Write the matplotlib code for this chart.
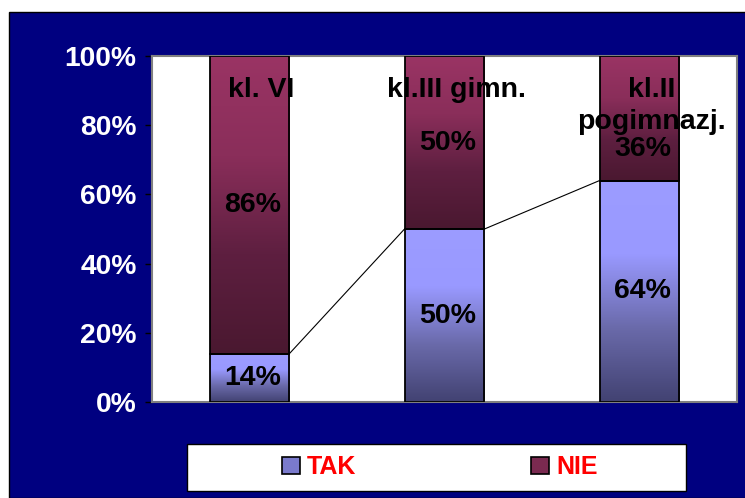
import matplotlib
matplotlib.use("Agg")
import matplotlib.pyplot as plt
import numpy as np
from matplotlib.patches import Rectangle, Patch
from matplotlib.colors import LinearSegmentedColormap
from matplotlib.ticker import FuncFormatter

categories = ["kl. VI", "kl.III gimn.", "kl.II\npogimnazj."]
tak = [0.14, 0.50, 0.64]
nie = [0.86, 0.50, 0.36]
tak_labels = ["14%", "50%", "64%"]
nie_labels = ["86%", "50%", "36%"]
series_names = ["TAK", "NIE"]

plt.rcParams['font.family'] = ['Liberation Sans', 'DejaVu Sans']

fig = plt.figure(figsize=(7.45, 4.98), dpi=100)
fig.patch.set_facecolor('white')
fig.patches.append(Rectangle((9/745, 0), 1, (498-12)/498, transform=fig.transFigure,
                             facecolor='#000080', edgecolor='black', lw=1, zorder=-10))

ax = fig.add_axes([152/745, 1-402/498, 585/745, 346/498])
ax.set_zorder(2)
ax.set_facecolor('white')
x = np.arange(len(categories))
w = 0.41

cm_tak = LinearSegmentedColormap.from_list('tak', ['#424272', '#6a6aaa', '#9999ff', '#9c9cff'])
cm_nie = LinearSegmentedColormap.from_list('nie', ['#4a1830', '#5e1f40', '#8a2e5a', '#9a3464'])

b1 = ax.bar(x, tak, w, facecolor='none', edgecolor='black', lw=1.3, zorder=4)
b2 = ax.bar(x, nie, w, bottom=tak, facecolor='none', edgecolor='black', lw=1.3, zorder=4)

grad = np.linspace(0, 1, 256).reshape(-1, 1)
for bars, cmap in ((b1, cm_tak), (b2, cm_nie)):
    for p in bars:
        x0, y0, pw, ph = p.get_x(), p.get_y(), p.get_width(), p.get_height()
        ax.imshow(grad, cmap=cmap, origin='lower', aspect='auto',
                  extent=[x0, x0+pw, y0, y0+ph], zorder=2, interpolation='bilinear')

# series lines connecting TAK tops
for i in range(len(x)-1):
    pa, pb = b1[i], b1[i+1]
    ax.plot([pa.get_x()+pa.get_width(), pb.get_x()],
            [pa.get_y()+pa.get_height(), pb.get_y()+pb.get_height()],
            color='black', lw=0.8, zorder=5)

fs = 20.5
for i in range(len(x)):
    ax.text(x[i]+0.015, tak[i]/2, tak_labels[i], ha='center', va='center',
            fontsize=fs, fontweight='bold', color='black', zorder=6)
    yn = tak[i] + nie[i]/2
    if i == 2:
        yn -= 0.09
    ax.text(x[i]+0.015, yn, nie_labels[i], ha='center', va='center',
            fontsize=fs, fontweight='bold', color='black', zorder=6)
    ax.text(x[i]+0.06, 0.94, categories[i], ha='center', va='top',
            fontsize=fs, fontweight='bold', color='black', zorder=6, linespacing=1.3)

ax.set_xlim(-0.5, len(categories)-0.5)
ax.set_ylim(0, 1)
ax.set_xticks([])
ax.set_yticks(np.arange(0, 1.01, 0.2))
ax.yaxis.set_major_formatter(FuncFormatter(lambda v, _: f"{v*100:.0f}%"))
ax.tick_params(axis='y', colors='black', labelcolor='white', labelsize=20.3,
               length=5, width=1, pad=6)
for lab in ax.get_yticklabels():
    lab.set_fontweight('bold')
for s in ax.spines.values():
    s.set_color('#808080')
    s.set_linewidth(1.5)

# legend box
fig.patches.append(Rectangle((187/745, 1-491/498), (686-187)/745, 47/498,
                             transform=fig.transFigure, facecolor='white',
                             edgecolor='black', lw=1, zorder=1))
handles = [Patch(facecolor='#7a7acc', edgecolor='black', lw=1.2),
           Patch(facecolor='#7a2a50', edgecolor='black', lw=1.2)]
leg = fig.legend(handles, series_names, loc='center', bbox_to_anchor=(440/745, 1-467/498),
                 ncol=2, frameon=False, fontsize=18, columnspacing=7.0,
                 handlelength=0.7, handleheight=0.7, handletextpad=0.3)
leg.set_zorder(3)
for t in leg.get_texts():
    t.set_color('#ff0000')
    t.set_fontweight('bold')

fig.savefig('out.png', dpi=100, facecolor=fig.get_facecolor())
